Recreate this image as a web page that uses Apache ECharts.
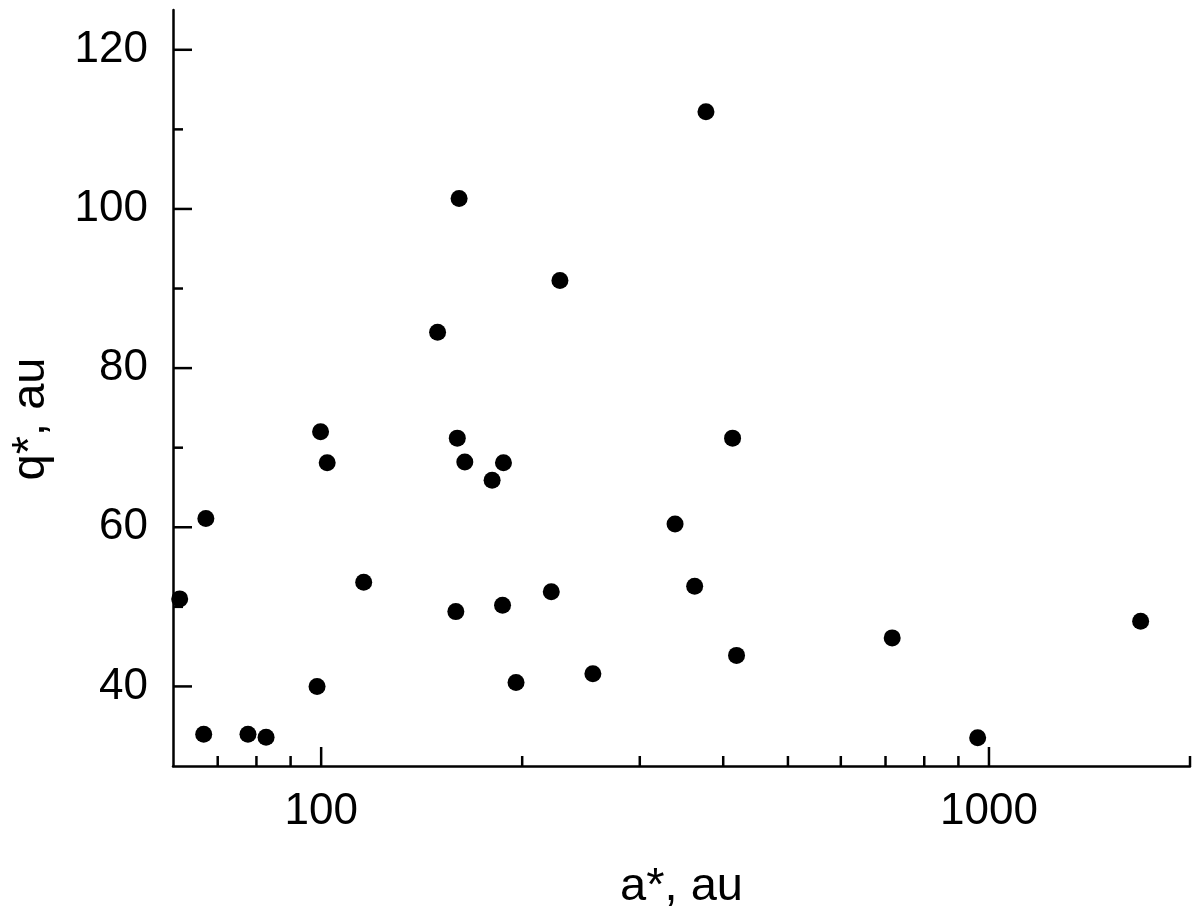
<!DOCTYPE html>
<html><head><meta charset="utf-8">
<script src="https://cdn.jsdelivr.net/npm/echarts@6/dist/echarts.min.js"></script>
<style>html,body{margin:0;padding:0;background:#fff}#c{width:1200px;height:916px}</style>
</head><body><div id="c"></div>
<script>
// a*, au (x, log scale)
const aValues = [61.4, 66.7, 67.2, 77.7, 82.7, 98.6, 99.8, 102.1, 115.8, 149.4,
  160.9, 159.9, 164.1, 159.1, 180.3, 187.5, 186.9, 195.8, 221.1, 227.8,
  255.2, 338.8, 362.5, 376.9, 413.1, 418.8, 716.3, 961.8, 1687];
// q*, au (y)
const qValues = [51.0, 34.0, 61.1, 34.0, 33.6, 40.0, 72.0, 68.1, 53.1, 84.5,
  101.3, 71.2, 68.2, 49.4, 65.9, 68.1, 50.2, 40.5, 51.9, 91.0,
  41.6, 60.4, 52.6, 112.2, 71.2, 43.9, 46.1, 33.55, 48.2];

const xMin = 60, xMax = 2000;
const yMin = 30, yMax = 125;
const xLabelTicks = [100, 1000];
const xMinorTicks = [70, 80, 90, 200, 300, 400, 500, 600, 700, 800, 900, 2000];
const yLabelTicks = [40, 60, 80, 100, 120];
const yMinorTicks = [50, 70, 90, 110];

const FONT = '"Liberation Sans", Arial, sans-serif';
const LW = 2.5;

function tickSeries(values, dim, len) {
  return {
    type: 'custom',
    coordinateSystem: 'cartesian2d',
    silent: true,
    clip: false,
    z: 3,
    data: values.map(v => dim === 'x' ? [v, yMin] : [xMin, v]),
    encode: { x: 0, y: 1 },
    renderItem: function (params, api) {
      const p = api.coord([api.value(0), api.value(1)]);
      const shape = dim === 'x'
        ? { x1: p[0], y1: p[1], x2: p[0], y2: p[1] - len }
        : { x1: p[0], y1: p[1], x2: p[0] + len, y2: p[1] };
      return { type: 'line', shape: shape, style: { stroke: '#000', lineWidth: LW, opacity: 1 } };
    }
  };
}

const chart = echarts.init(document.getElementById('c'), null, { renderer: 'canvas' });
chart.setOption({
  backgroundColor: '#fff',
  animation: false,
  grid: { left: 173, right: 10, top: 10, bottom: 150 },
  xAxis: {
    type: 'log', logBase: 10, min: xMin, max: xMax,
    name: 'a*, au', nameLocation: 'middle', nameGap: 98,
    nameTextStyle: { fontFamily: FONT, fontSize: 47, color: '#000' },
    axisLine: { onZero: false, lineStyle: { color: '#000', width: LW } },
    axisTick: { show: false },
    splitLine: { show: false },
    axisLabel: {
      showMinLabel: false, showMaxLabel: false,
      margin: 24, fontFamily: FONT, fontSize: 44, color: '#000',
      formatter: function (v) {
        const r = Math.round(v);
        return xLabelTicks.indexOf(r) >= 0 ? String(r) : '';
      }
    }
  },
  yAxis: {
    type: 'value', min: yMin, max: yMax,
    name: 'q*, au', nameLocation: 'middle', nameGap: 118,
    nameTextStyle: { fontFamily: FONT, fontSize: 47, color: '#000', padding: [0, 62, 0, 0] },
    axisLine: { onZero: false, lineStyle: { color: '#000', width: LW } },
    axisTick: { show: false },
    splitLine: { show: false },
    axisLabel: {
      customValues: yLabelTicks,
      margin: 25, fontFamily: FONT, fontSize: 44, color: '#000'
    }
  },
  series: [
    {
      type: 'scatter',
      symbol: 'circle', symbolSize: 17,
      itemStyle: { color: '#000', opacity: 1 },
      data: aValues.map((a, i) => [a, qValues[i]]),
      z: 4
    },
    tickSeries(xLabelTicks, 'x', 19),
    tickSeries(xMinorTicks, 'x', 10),
    tickSeries(yLabelTicks, 'y', 19),
    tickSeries(yMinorTicks, 'y', 10)
  ]
});
</script>
</body></html>
